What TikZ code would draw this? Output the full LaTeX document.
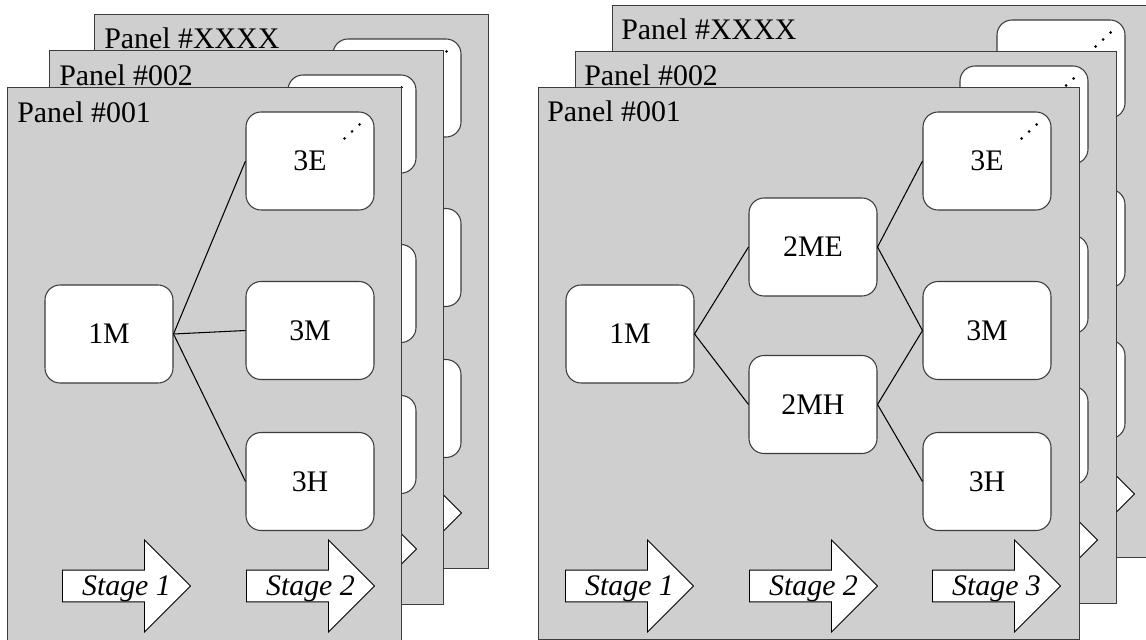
\documentclass[tikz,border=0pt]{standalone}
\usepackage{fontspec}
\setmainfont{Liberation Serif}
\usetikzlibrary{shapes.arrows, calc}
\definecolor{panelgray}{RGB}{207, 207, 207}
\definecolor{edgegray}{RGB}{60, 60, 60}

\begin{document}
\begin{tikzpicture}[
        x=0.02cm, y=-0.02cm,
        font=\fontsize{17}{20}\selectfont,
        lpanel/.style={rectangle, draw=edgegray, fill=panelgray, line width=0.6pt, anchor=north west, inner sep=0pt, minimum width=7.88cm, minimum height=11.08cm},
        rpanel/.style={rectangle, draw=edgegray, fill=panelgray, line width=0.6pt, anchor=north west, inner sep=0pt, minimum width=10.82cm, minimum height=11.04cm},
        title/.style={anchor=base west, inner sep=0pt},
        level/.style={rectangle, rounded corners=0.3cm, draw=edgegray, fill=white, line width=0.6pt, minimum width=2.56cm, minimum height=1.96cm, inner sep=0pt},
        stagearrow/.style={single arrow, anchor=tail, draw=black, fill=white, line width=0.5pt, minimum height=2.56cm, single arrow head extend=0.6cm, single arrow tip angle=90, single arrow head indent=0pt, text height=11pt, text depth=4pt, inner ysep=1.3pt, inner xsep=0pt},
        stagetext/.style={font=\fontsize{17}{20}\selectfont\itshape, text height=11pt, text depth=0pt, inner sep=0pt},
        link/.style={line width=0.6pt, black}
    ]
        \useasboundingbox (0,0) rectangle (1146,639);

        % Left stack: panels behind
        \foreach \dx/\dy/\pid in {87/-73/XXXX, 42/-37/002}{
            \begin{scope}[shift={(\dx,\dy)}, name prefix=L\pid-]
                \node[lpanel] (pan) at (7,87) {};
                \node[title] (ttl) at (17,122) {Panel \#\pid};
                \node[level] (e3) at (310,161) {};
                \node[level] (m3) at (310,330.5) {};
                \node[level] (h3) at (310,481.5) {};
                \node[stagearrow] (s2) at (246,586) {};
                \foreach \i in {0,1,2}
                    \fill ($(e3.north east)+(-30+7.5*\i,27-7*\i)$) circle (0.85pt);
            \end{scope}
        }

        % Left stack: front panel
        \node[lpanel] (lpan) at (7,87) {};
        \node[title] (lttl) at (17,122) {Panel \#001};
        \node[level] (lm1) at (109,334) {1M};
        \node[level] (le3) at (310,161) {3E};
        \node[level] (lm3) at (310,330.5) {3M};
        \node[level] (lh3) at (310,481.5) {3H};
        \foreach \i in {0,1,2}
            \fill ($(le3.north east)+(-30+7.5*\i,27-7*\i)$) circle (0.85pt);
        \node[stagearrow] (ls1) at (62,586) {};
        \node[stagearrow] (ls2) at (246,586) {};
        \node[stagetext] (lt1) at ($(ls1.tail)!0.5!(ls1.tip)$) {Stage 1};
        \node[stagetext] (lt2) at ($(ls2.tail)!0.5!(ls2.tip)$) {Stage 2};

        \draw[link] (lm1.east) -- (le3.west);
        \draw[link] (lm1.east) -- (lm3.west);
        \draw[link] (lm1.east) -- (lh3.west);

        % Right stack: panels behind
        \foreach \dx/\dy/\pid in {74/-92/XXXX, 37/-46/002}{
            \begin{scope}[shift={(\dx,\dy)}, name prefix=R\pid-]
                \node[rpanel] (pan) at (538,97) {};
                \node[title] (ttl) at (547,131) {Panel \#\pid};
                \node[level] (e3) at (987,161) {};
                \node[level] (m3) at (987,330.5) {};
                \node[level] (h3) at (987,481.5) {};
                \node[stagearrow] (s3) at (932,586) {};
                \foreach \i in {0,1,2}
                    \fill ($(e3.north east)+(-30+7.5*\i,27-7*\i)$) circle (0.85pt);
            \end{scope}
        }

        % Right stack: front panel
        \node[rpanel] (rpan) at (538,87) {};
        \node[title] (rttl) at (547,121) {Panel \#001};
        \node[level] (rm1) at (630,334) {1M};
        \node[level] (rme2) at (813,247) {2ME};
        \node[level] (rmh2) at (813,404.5) {2MH};
        \node[level] (re3) at (987,161) {3E};
        \node[level] (rm3) at (987,330.5) {3M};
        \node[level] (rh3) at (987,481.5) {3H};
        \foreach \i in {0,1,2}
            \fill ($(re3.north east)+(-30+7.5*\i,27-7*\i)$) circle (0.85pt);
        \node[stagearrow] (rs1) at (565,586) {};
        \node[stagearrow] (rs2) at (749,586) {};
        \node[stagearrow] (rs3) at (932,586) {};
        \node[stagetext] (rt1) at ($(rs1.tail)!0.5!(rs1.tip)$) {Stage 1};
        \node[stagetext] (rt2) at ($(rs2.tail)!0.5!(rs2.tip)$) {Stage 2};
        \node[stagetext] (rt3) at ($(rs3.tail)!0.5!(rs3.tip)$) {Stage 3};

        \draw[link] (rm1.east) -- (rme2.west);
        \draw[link] (rm1.east) -- (rmh2.west);
        \draw[link] (rme2.east) -- (re3.west);
        \draw[link] (rme2.east) -- (rm3.west);
        \draw[link] (rmh2.east) -- (rm3.west);
        \draw[link] (rmh2.east) -- (rh3.west);
    \end{tikzpicture}
\end{document}
